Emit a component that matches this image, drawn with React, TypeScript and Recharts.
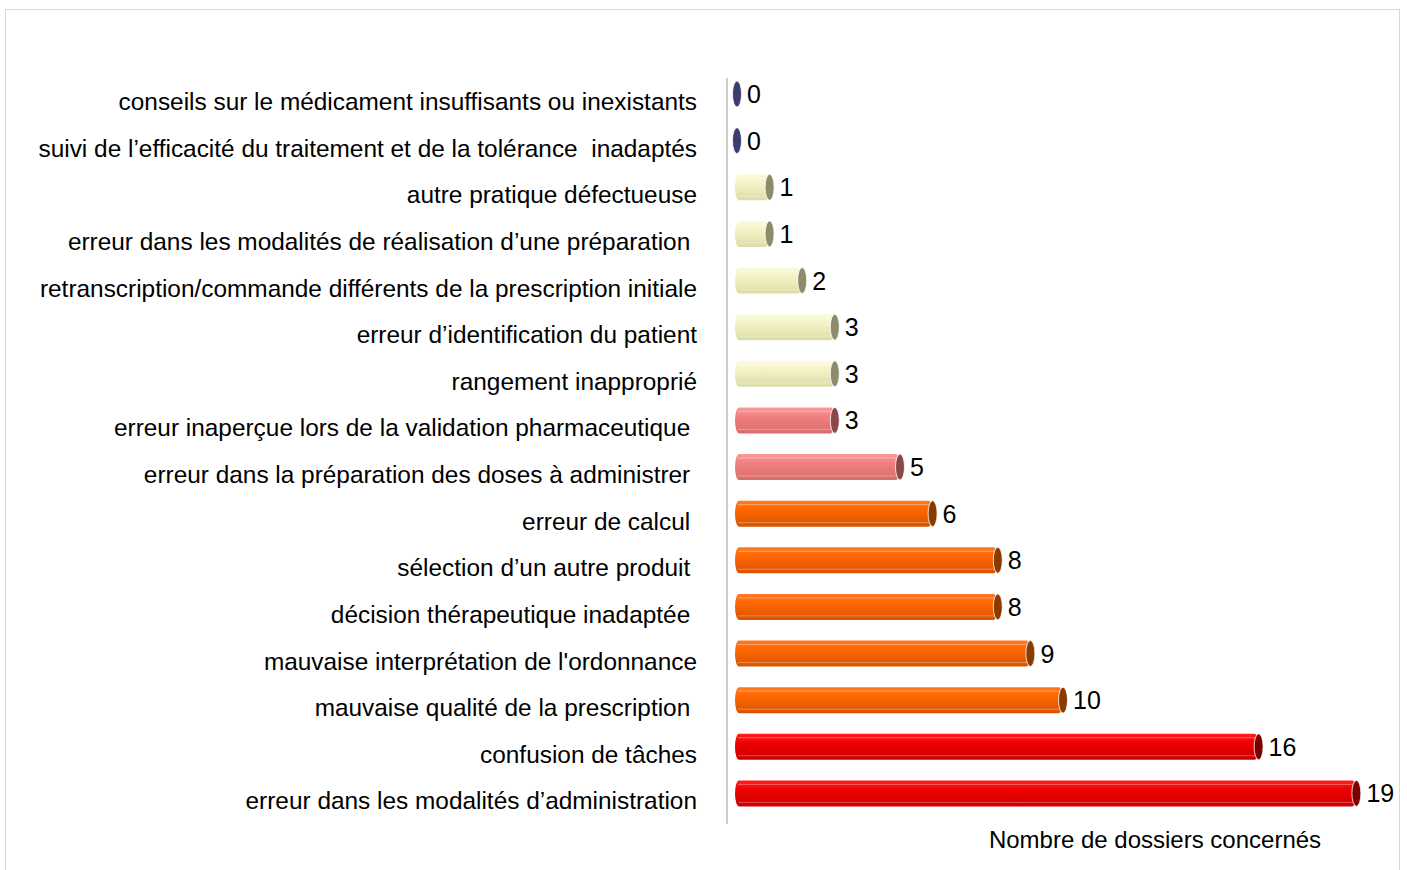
import { Bar, BarChart, LabelList, XAxis, YAxis } from "recharts"

const categories = [
  "conseils sur le médicament insuffisants ou inexistants",
  "suivi de l’efficacité du traitement et de la tolérance\u00a0\u00a0inadaptés",
  "autre pratique défectueuse",
  "erreur dans les modalités de réalisation d’une préparation\u00a0",
  "retranscription/commande différents de la prescription initiale",
  "erreur d’identification du patient",
  "rangement inapproprié",
  "erreur inaperçue lors de la validation pharmaceutique\u00a0",
  "erreur dans la préparation des doses à administrer\u00a0",
  "erreur de calcul\u00a0",
  "sélection d’un autre produit\u00a0",
  "décision thérapeutique inadaptée\u00a0",
  "mauvaise interprétation de l'ordonnance",
  "mauvaise qualité de la prescription\u00a0",
  "confusion de tâches",
  "erreur dans les modalités d’administration",
]

const counts = [0, 0, 1, 1, 2, 3, 3, 3, 5, 6, 8, 8, 9, 10, 16, 19]

const data = categories.map((name, i) => ({ name, count: counts[i] }))

// colour family of each bar (top to bottom)
const families = ["navy", "navy", "pale", "pale", "pale", "pale", "pale", "pink", "pink", "orange", "orange", "orange", "orange", "orange", "red", "red"]

const palette: Record<string, { top: string; mid: string; bottom: string; cap: string }> = {
  navy: { top: "#5a5a8a", mid: "#3c3c6e", bottom: "#2c2c55", cap: "#3c3c6e" },
  pale: { top: "#fbfbdc", mid: "#f3f3c6", bottom: "#dcdca8", cap: "#8c8c6c" },
  pink: { top: "#fa9a9a", mid: "#f08080", bottom: "#d86c6c", cap: "#8c4848" },
  orange: { top: "#ff7a22", mid: "#ff6600", bottom: "#d85400", cap: "#8a3c00" },
  red: { top: "#ff2020", mid: "#ee0000", bottom: "#cc0000", cap: "#7c0000" },
}

const FONT = "'Liberation Sans', Arial, sans-serif"
const DX = 8
const DY = -7

function Cylinder(props: any) {
  const { x, y, width, height, index } = props
  const fam = families[index]
  const c = palette[fam]
  const bx = x + DX
  const by = y + DY
  const end = x + DX + 2 + width
  const ry = height / 2
  return (
    <g>
      {width > 0 && (
        <>
          <rect x={bx} y={by} width={end - bx} height={height} rx={4} ry={ry} fill={`url(#g-${fam})`} />
          <line x1={bx + 3} x2={end} y1={by + 4} y2={by + 4} stroke="#fff" strokeOpacity={0.35} />
          <line x1={bx + 3} x2={end} y1={by + height - 4} y2={by + height - 4} stroke="#fff" strokeOpacity={0.3} />
        </>
      )}
      <ellipse cx={end} cy={by + ry} rx={4.5} ry={ry} fill={c.cap} stroke="#fff" strokeWidth={0.8} />
    </g>
  )
}

function ValueLabel(props: any) {
  const { x, y, width, height, value } = props
  return (
    <text x={x + DX + 2 + width + 10} y={y + DY + height / 2} dy="0.36em" fontSize={25} fontFamily={FONT} fill="#000">
      {value}
    </text>
  )
}

function CategoryTick(props: any) {
  const { x, y, payload } = props
  return (
    <text x={x} y={y} dy="0.36em" textAnchor="end" fontSize={24.4} fontFamily={FONT} fill="#000" xmlSpace="preserve">
      {payload.value}
    </text>
  )
}

export default function App() {
  return (
    <div
      style={{
        position: "absolute",
        left: 5,
        top: 9,
        width: 1393,
        height: 870,
        border: "1px solid #d9d9d9",
        background: "#fff",
      }}
    >
      <BarChart
        width={1393}
        height={870}
        data={data}
        layout="vertical"
        margin={{ top: 68, right: 20, bottom: 16, left: 0 }}
        barSize={26}
      >
        <defs>
          {Object.keys(palette).map((k) => (
            <linearGradient key={k} id={`g-${k}`} x1="0" y1="0" x2="0" y2="1">
              <stop offset="0%" stopColor={palette[k].top} />
              <stop offset="35%" stopColor={palette[k].mid} />
              <stop offset="100%" stopColor={palette[k].bottom} />
            </linearGradient>
          ))}
        </defs>
        <XAxis
          type="number"
          domain={[0, 20]}
          height={40}
          axisLine={false}
          tickLine={false}
          tick={false}
          label={{
            content: () => (
              <text x={1149} y={829} dy="0.36em" textAnchor="middle" fontSize={24} fontFamily={FONT} fill="#000">
                Nombre de dossiers concernés
              </text>
            ),
          }}
        />
        <YAxis
          type="category"
          dataKey="name"
          width={721}
          axisLine={{ stroke: "#999" }}
          tickLine={false}
          tickSize={0}
          tickMargin={30}
          interval={0}
          tick={<CategoryTick />}
        />
        <Bar dataKey="count" shape={<Cylinder />} isAnimationActive={false}>
          <LabelList dataKey="count" content={<ValueLabel />} />
        </Bar>
      </BarChart>
    </div>
  )
}
